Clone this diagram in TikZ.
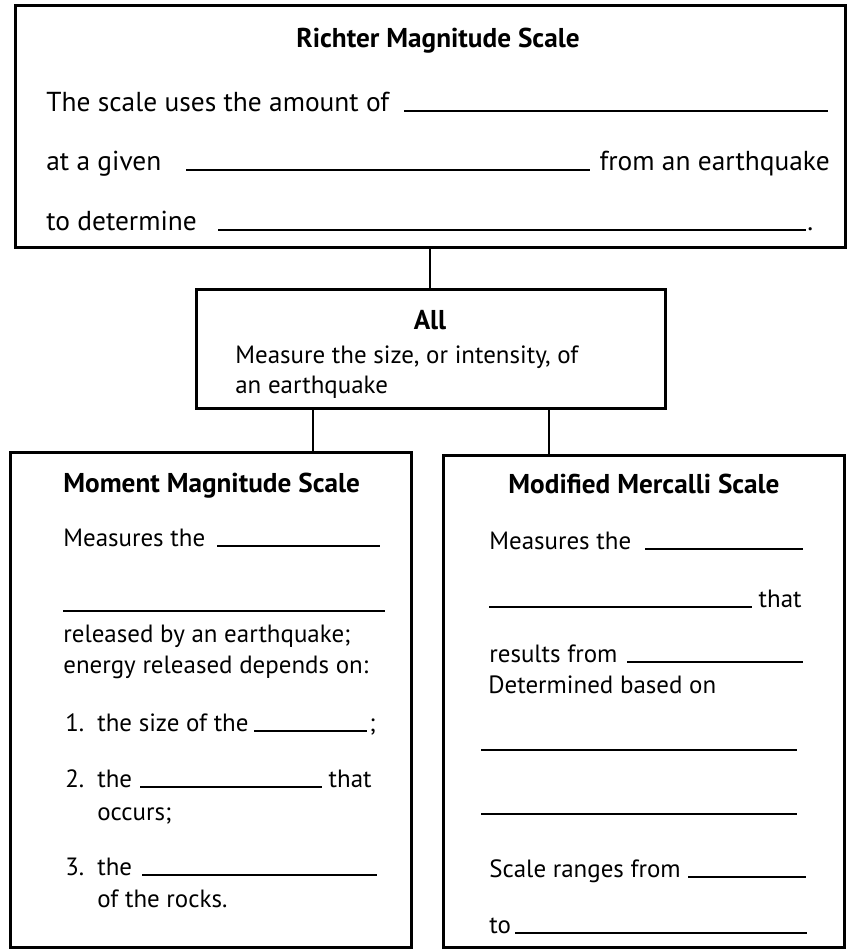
\documentclass[tikz,border=0pt]{standalone}
\usepackage{fontspec}
\setmainfont{PT Sans}
\usepackage{tikz}
\usetikzlibrary{positioning,calc}

\tikzset{
  scalebox/.style={draw=black,line width=1.7pt,inner sep=0pt},
  link/.style={draw=black,line width=1.6pt},
  blankline/.style={draw=black,line width=0.8pt},
  bodytxt/.style={anchor=base west,inner sep=0pt,font=\fontsize{14.2}{17}\selectfont},
  toptxt/.style={anchor=base west,inner sep=0pt,font=\fontsize{15.6}{19}\selectfont},
  headtxt/.style={anchor=base,inner sep=0pt,font=\fontsize{15.5}{18}\selectfont\bfseries}
}

\begin{document}
\begin{tikzpicture}[x=0.02cm,y=-0.02cm]
        \useasboundingbox (0,0) rectangle (849,950);

        % Richter box
        \node[scalebox,minimum width=16.62cm,minimum height=4.86cm] (richter) at (430.5,126.5) {};
        \node[headtxt] (richterhead) at (438,47) {Richter Magnitude Scale};
        \node[toptxt] (r1) at (46,111) {The scale uses the amount of};
        \node[toptxt] (r2) at (46,170) {at a given};
        \node[toptxt,anchor=base east] (r2b) at (830,170) {from an earthquake};
        \node[toptxt] (r3) at (46,230) {to determine};
        \node[toptxt] (r3b) at (807,230) {.};
        \draw[blankline] (404,111) -- (828,111);
        \draw[blankline] (186,170) -- (590,170);
        \draw[blankline] (218,230) -- (806,230);

        % All box
        \node[scalebox,minimum width=9.38cm,minimum height=2.38cm] (all) at (431,349) {};
        \node[headtxt] (allhead) at (430,329) {All};
        \node[bodytxt] (a1) at (235,363) {Measure the size, or intensity, of};
        \node[bodytxt] (a2) at (235,393) {an earthquake};

        % Moment box
        \node[scalebox,minimum width=8.04cm,minimum height=9.92cm] (moment) at (211,700) {};
        \node[headtxt,anchor=base west] (momenthead) at (63,492) {Moment Magnitude Scale};
        \node[bodytxt] (m1) at (63,546) {Measures the};
        \node[bodytxt] (m2) at (63,642) {released by an earthquake;};
        \node[bodytxt] (m3) at (63,673) {energy released depends on:};
        \node[bodytxt] (m4) at (65,731) {1.};
        \node[bodytxt] (m4b) at (97,731) {the size of the};
        \node[bodytxt] (m4c) at (369,731) {;};
        \node[bodytxt] (m5) at (65,787) {2.};
        \node[bodytxt] (m5b) at (97,787) {the};
        \node[bodytxt,anchor=base east] (m5c) at (372,787) {that};
        \node[bodytxt] (m6) at (97,820) {occurs;};
        \node[bodytxt] (m7) at (65,875) {3.};
        \node[bodytxt] (m7b) at (97,875) {the};
        \node[bodytxt] (m8) at (97,907) {of the rocks.};
        \draw[blankline] (217,546) -- (380,546);
        \draw[blankline] (63,611) -- (385,611);
        \draw[blankline] (254,731) -- (367,731);
        \draw[blankline] (140,787) -- (322,787);
        \draw[blankline] (142,875) -- (377,875);

        % Mercalli box
        \node[scalebox,minimum width=8.04cm,minimum height=9.86cm] (mercalli) at (644,701.5) {};
        \node[headtxt] (mercallihead) at (644,493) {Modified Mercalli Scale};
        \node[bodytxt] (k1) at (489,549) {Measures the};
        \node[bodytxt,anchor=base east] (k2) at (802,607) {that};
        \node[bodytxt] (k3) at (489,662) {results from};
        \node[bodytxt] (k4) at (488,693) {Determined based on};
        \node[bodytxt] (k5) at (489,877) {Scale ranges from};
        \node[bodytxt] (k6) at (489,933) {to};
        \draw[blankline] (645,549) -- (803,549);
        \draw[blankline] (489,607) -- (752,607);
        \draw[blankline] (627,662) -- (803,662);
        \draw[blankline] (481,750) -- (797,750);
        \draw[blankline] (481,814) -- (797,814);
        \draw[blankline] (688,877) -- (806,877);
        \draw[blankline] (515,933) -- (807,933);

        % links
        \coordinate (allleft) at ($(all.south)!0.5!(all.south west)$);
        \coordinate (allright) at ($(all.south)!0.5!(all.south east)$);
        \draw[link] (richter.south -| allhead) -- (all.north -| allhead);
        \draw[link] (allleft) -- (allleft |- moment.north);
        \draw[link] (allright) -- (allright |- mercalli.north);
    \end{tikzpicture}
\end{document}
